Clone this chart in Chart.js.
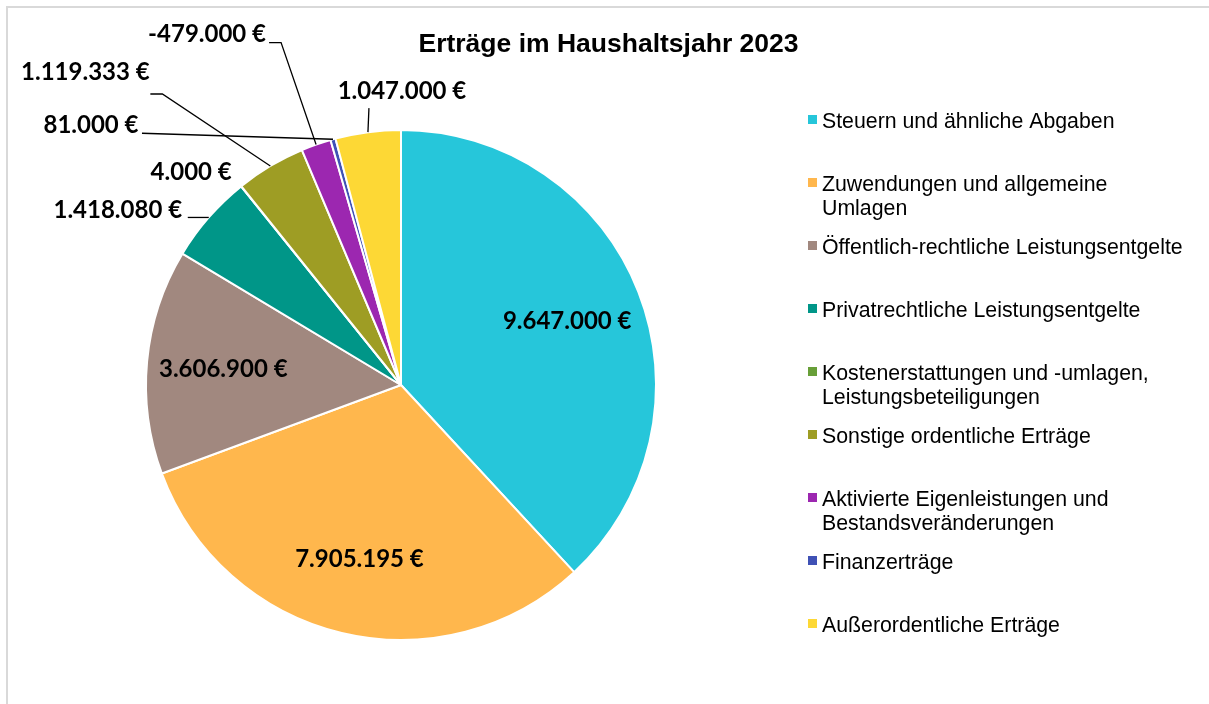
<!DOCTYPE html>
<html lang="de">
<head>
<meta charset="utf-8">
<title>Erträge im Haushaltsjahr 2023</title>
<script src="https://cdn.jsdelivr.net/npm/chart.js@4.4.0/dist/chart.umd.min.js"></script>
<style>
    html, body { margin: 0; padding: 0; background: #fff; }
    #wrap { width: 1209px; height: 704px; position: relative; }
</style>
</head>
<body>
<div id="wrap"><canvas id="ertraegeChart" width="1209" height="704"></canvas></div>
<script>
// --- Daten ---
const chartTitle = 'Erträge im Haushaltsjahr 2023';
const categories = [
    'Steuern und ähnliche Abgaben',
    'Zuwendungen und allgemeine Umlagen',
    'Öffentlich-rechtliche Leistungsentgelte',
    'Privatrechtliche Leistungsentgelte',
    'Kostenerstattungen und -umlagen, Leistungsbeteiligungen',
    'Sonstige ordentliche Erträge',
    'Aktivierte Eigenleistungen und Bestandsveränderungen',
    'Finanzerträge',
    'Außerordentliche Erträge'
];
const values = [9647000, 7905195, 3606900, 1418080, 4000, 1119333, -479000, 81000, 1047000];
const sliceColors = ['#26C6DA', '#FFB74D', '#A1887F', '#009688', '#689F38', '#9E9D24', '#9C27B0', '#3F51B5', '#FDD835'];

// Beschriftung: innen, oder außen mit Versatz zum Bogenrand (Mitte) und Führungslinie
const labelLayout = [
    { inside: true },
    { inside: true },
    { inside: true },
    { dx: -91, dy: -8, line: [[-21, 0]] },
    { dx: -50, dy: -15, line: null },
    { dx: -185, dy: -95, line: [[-120, -72], [-108, -72]] },
    { dx: -109, dy: -111, line: [[-47, -102], [-35, -102]] },
    { dx: -242, dy: -15, line: [[-191, -6]] },
    { dx: 34, dy: -42, line: [[1, -24]] }
];

// Zahl im deutschen Format: 1.234.567 €
function formatEuro(v) {
    const s = String(Math.abs(v)).replace(/\B(?=(\d{3})+(?!\d))/g, '.');
    return (v < 0 ? '-' : '') + s + ' €';
}

// Rahmen + Titel
const framePlugin = {
    id: 'frame',
    beforeDraw(chart) {
        const ctx = chart.ctx;
        ctx.save();
        ctx.fillStyle = '#fff';
        ctx.fillRect(0, 0, chart.width, chart.height);
        ctx.strokeStyle = '#d9d9d9';
        ctx.lineWidth = 2;
        ctx.strokeRect(7, 7, chart.width + 50, chart.height + 50);
        ctx.fillStyle = '#000';
        ctx.font = 'bold 26.5px "Liberation Sans", Arial, sans-serif';
        ctx.textAlign = 'center';
        ctx.textBaseline = 'alphabetic';
        ctx.fillText(chartTitle, 608.5, 52);
        ctx.restore();
    }
};

// Datenbeschriftungen
const valueLabelPlugin = {
    id: 'valueLabels',
    afterDatasetsDraw(chart) {
        const ctx = chart.ctx;
        const meta = chart.getDatasetMeta(0);
        const size = 24;
        ctx.save();
        ctx.font = 'bold ' + size + 'px Lato, "Open Sans", sans-serif';
        ctx.textAlign = 'center';
        ctx.textBaseline = 'alphabetic';
        ctx.fillStyle = '#000';
        ctx.strokeStyle = '#000';
        ctx.lineWidth = 1.3;
        meta.data.forEach((arc, i) => {
            const p = arc.getProps(['x', 'y', 'startAngle', 'endAngle', 'outerRadius'], true);
            const mid = (p.startAngle + p.endAngle) / 2;
            const lay = labelLayout[i];
            const text = formatEuro(values[i]);
            if (lay.inside) {
                const r = p.outerRadius * 0.7;
                ctx.fillText(text, p.x + Math.cos(mid) * r, p.y + Math.sin(mid) * r + size * 0.36);
                return;
            }
            const ax = p.x + Math.cos(mid) * p.outerRadius;
            const ay = p.y + Math.sin(mid) * p.outerRadius;
            if (lay.line) {
                ctx.beginPath();
                ctx.moveTo(ax + lay.line[0][0], ay + lay.line[0][1]);
                for (let k = 1; k < lay.line.length; k++) {
                    ctx.lineTo(ax + lay.line[k][0], ay + lay.line[k][1]);
                }
                ctx.lineTo(ax, ay);
                ctx.stroke();
            }
            ctx.fillText(text, ax + lay.dx, ay + lay.dy + size * 0.36);
        });
        ctx.restore();
    }
};

// Legende rechts mit Zeilenumbruch
const sideLegendPlugin = {
    id: 'sideLegend',
    afterDraw(chart) {
        const ctx = chart.ctx;
        const x0 = 808, tx = 822, maxW = 366, firstBase = 128, step = 63, lineH = 24;
        ctx.save();
        ctx.font = '21.3px "Liberation Sans", Arial, sans-serif';
        ctx.textAlign = 'left';
        ctx.textBaseline = 'alphabetic';
        categories.forEach((cat, i) => {
            const base = firstBase + i * step;
            ctx.fillStyle = sliceColors[i];
            ctx.fillRect(x0, base - 13, 9, 9);
            // Wörter umbrechen
            const words = cat.split(' ');
            const lines = [];
            let cur = '';
            words.forEach(w => {
                const test = cur ? cur + ' ' + w : w;
                if (ctx.measureText(test).width > maxW && cur) {
                    lines.push(cur);
                    cur = w;
                } else {
                    cur = test;
                }
            });
            lines.push(cur);
            ctx.fillStyle = '#000';
            lines.forEach((ln, k) => ctx.fillText(ln, tx, base + k * lineH));
        });
        ctx.restore();
    }
};

new Chart(document.getElementById('ertraegeChart'), {
    type: 'pie',
    data: {
        labels: categories,
        datasets: [{
            data: values,
            backgroundColor: sliceColors,
            borderColor: '#ffffff',
            borderWidth: 2
        }]
    },
    options: {
        responsive: false,
        animation: false,
        layout: {
            padding: { left: 145, right: 552, top: 129, bottom: 63 }
        },
        plugins: {
            legend: { display: false },
            title: { display: false },
            tooltip: { enabled: false }
        }
    },
    plugins: [framePlugin, valueLabelPlugin, sideLegendPlugin]
});
</script>
</body>
</html>
